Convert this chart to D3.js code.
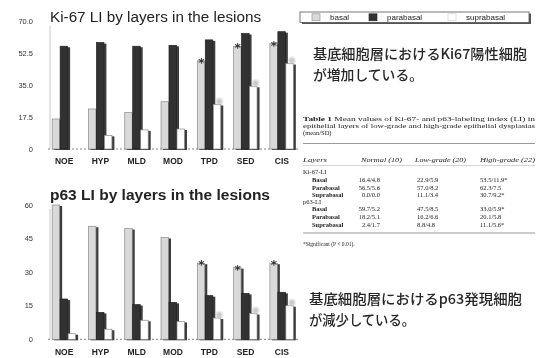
<!DOCTYPE html>
<html>
<head>
<meta charset="utf-8">
<script src="https://cdn.jsdelivr.net/npm/d3@7"></script>
<style>
  body { margin: 0; background: #fff; }
  svg { display: block; }
</style>
</head>
<body>
<div id="chart"></div>
<script>
// data
var categories = ['NOE', 'HYP', 'MLD', 'MOD', 'TPD', 'SED', 'CIS'];
var seriesNames = ['basal', 'parabasal', 'suprabasal'];
var significant = ['TPD', 'SED', 'CIS'];

var ki67Basal = [16.5, 22, 20, 26, 48.5, 56.5, 58];
var ki67Parabasal = [56.5, 58.5, 56.5, 57, 60, 63.5, 64.5];
var ki67Suprabasal = [0, 7.5, 10.5, 11, 24.5, 34.5, 47];
var ki67Ticks = [0, 17.5, 35, 52.5, 70];
var ki67TickLabels = ['0', '17.5', '35.0', '52.5', '70.0'];

var p63Basal = [60, 50.5, 49.5, 45.5, 34, 32, 34];
var p63Parabasal = [18, 12, 15.5, 16.5, 19.5, 20.5, 21];
var p63Suprabasal = [2.5, 4.5, 8.5, 8, 9.5, 11.5, 15];
var p63Ticks = [0, 15, 30, 45, 60];
var p63TickLabels = ['0', '15', '30', '45', '60'];

var tableTitle = ['Table 1  Mean values of Ki-67- and p63-labeling index (LI) in',
    'epithelial layers of low-grade and high-grade epithelial dysplasias',
    '(mean/SD)'];
var tableHeader = ['Layers', 'Normal (10)', 'Low-grade (20)', 'High-grade (22)'];
var tableRows = [
    ['Ki-67-LI', null, null, null],
    ['Basal', '16.4/4.8', '22.9/5.9', '53.5/11.9*'],
    ['Parabasal', '56.5/5.6', '57.0/8.2', '62.3/7.5'],
    ['Suprabasal', '0.0/0.0', '11.1/3.4', '30.7/9.2*'],
    ['p63-LI', null, null, null],
    ['Basal', '59.7/5.2', '47.5/8.5', '33.0/5.9*'],
    ['Parabasal', '18.2/5.1', '16.2/6.6', '20.1/5.8'],
    ['Suprabasal', '2.4/1.7', '8.8/4.8', '11.1/5.6*']
];
var footnote = '*Significant (P < 0.01).';

var w = 537;
var h = 358;
var svg = d3.select('#chart').append('svg')
    .attr('width', w)
    .attr('height', h);

var defs = svg.append('defs');
defs.append('filter').attr('id', 'soft')
    .append('feGaussianBlur').attr('stdDeviation', 0.45);
defs.append('filter').attr('id', 'blob')
    .append('feGaussianBlur').attr('stdDeviation', 1.2);

var fills = { basal: '#d9d9d9', parabasal: '#333333', suprabasal: '#ffffff' };
var strokes = { basal: '#8a8a8a', parabasal: '#222222', suprabasal: '#8a8a8a' };

var x = d3.scaleBand()
    .domain(categories)
    .range([46, 300])
    .paddingInner(0.34)
    .paddingOuter(0.17);

var xs = d3.scaleBand()
    .domain(seriesNames)
    .range([0, x.bandwidth()]);

function drawChart(opt) {
    var g = svg.append('g').attr('filter', 'url(#soft)');
    var y = d3.scaleLinear().domain(opt.domain).range(opt.range);

    g.append('text')
        .attr('x', 50)
        .attr('y', opt.titleY)
        .attr('font-family', 'Liberation Sans, Arial, sans-serif')
        .attr('font-size', 14)
        .attr('font-weight', opt.titleBold ? 'bold' : 'normal')
        .attr('fill', '#222')
        .attr('textLength', opt.titleLen)
        .attr('lengthAdjust', 'spacingAndGlyphs')
        .text(opt.title);

    // axis line
    g.append('line')
        .attr('x1', 50).attr('x2', 50)
        .attr('y1', y(opt.domain[1]) + 4).attr('y2', y(0))
        .attr('stroke', '#bbb').attr('stroke-width', 0.8);

    g.append('line')
        .attr('x1', 48).attr('x2', 300)
        .attr('y1', y(0)).attr('y2', y(0))
        .attr('stroke', '#666').attr('stroke-width', 0.8)
        .attr('stroke-dasharray', '2,2');

    g.selectAll('.tick' + opt.id)
        .data(opt.ticks)
        .join('text')
        .attr('class', 'tick' + opt.id)
        .attr('x', 33)
        .attr('y', d => y(d) + 2.5)
        .attr('text-anchor', 'end')
        .attr('font-family', 'Liberation Sans, Arial, sans-serif')
        .attr('font-size', 7.5)
        .attr('fill', '#333')
        .text((d, i) => opt.tickLabels[i]);

    var rows = [];
    categories.forEach(function (c, i) {
        seriesNames.forEach(function (s, j) {
            rows.push({ cat: c, series: s, value: opt.values[j][i] });
        });
    });

    // shadows
    g.selectAll('.shadow' + opt.id)
        .data(rows.filter(d => d.value > 0))
        .join('rect')
        .attr('class', 'shadow' + opt.id)
        .attr('x', d => x(d.cat) + xs(d.series) + 2)
        .attr('y', d => y(d.value) + 1)
        .attr('width', xs.bandwidth())
        .attr('height', d => y(0) - y(d.value))
        .attr('fill', '#3c3c3c');

    g.selectAll('.bar' + opt.id)
        .data(rows.filter(d => d.value > 0))
        .join('rect')
        .attr('class', 'bar' + opt.id)
        .attr('x', d => x(d.cat) + xs(d.series))
        .attr('y', d => y(d.value))
        .attr('width', xs.bandwidth() - 0.5)
        .attr('height', d => y(0) - y(d.value))
        .attr('fill', d => fills[d.series])
        .attr('stroke', d => strokes[d.series])
        .attr('stroke-width', 0.7);

    // significance marks
    var sig = rows.filter(d => significant.indexOf(d.cat) >= 0 && d.series == 'basal');
    g.selectAll('.star' + opt.id)
        .data(sig)
        .join('text')
        .attr('class', 'star' + opt.id)
        .attr('x', d => x(d.cat) + xs(d.series) + xs.bandwidth() / 2)
        .attr('y', d => y(d.value) + 6)
        .attr('text-anchor', 'middle')
        .attr('font-family', 'DejaVu Sans, sans-serif')
        .attr('font-size', 12)
        .attr('font-weight', 'bold')
        .attr('fill', '#333')
        .text('*');

    var faded = rows.filter(d => significant.indexOf(d.cat) >= 0 && d.series == 'suprabasal');
    svg.selectAll('.blob' + opt.id)
        .data(faded)
        .join('circle')
        .attr('class', 'blob' + opt.id)
        .attr('cx', d => x(d.cat) + xs(d.series) + xs.bandwidth() / 2 + 2)
        .attr('cy', d => y(d.value) - 3)
        .attr('r', 3.2)
        .attr('fill', '#c8c8c8')
        .attr('filter', 'url(#blob)');

    g.selectAll('.cat' + opt.id)
        .data(categories)
        .join('text')
        .attr('class', 'cat' + opt.id)
        .attr('x', d => x(d) + x.bandwidth() / 2)
        .attr('y', opt.catY)
        .attr('text-anchor', 'middle')
        .attr('font-family', 'Liberation Sans, Arial, sans-serif')
        .attr('font-size', 8.5)
        .attr('font-weight', 'bold')
        .attr('fill', '#222')
        .text(d => d);
}

drawChart({
    id: 'k', domain: [0, 70], range: [149, 21.7],
    values: [ki67Basal, ki67Parabasal, ki67Suprabasal],
    ticks: ki67Ticks, tickLabels: ki67TickLabels,
    title: 'Ki-67 LI by layers in the lesions', titleY: 21.5, titleLen: 211, titleBold: false,
    catY: 164
});

drawChart({
    id: 'p', domain: [0, 60], range: [339.3, 205],
    values: [p63Basal, p63Parabasal, p63Suprabasal],
    ticks: p63Ticks, tickLabels: p63TickLabels,
    title: 'p63 LI by layers in the lesions', titleY: 200, titleLen: 220, titleBold: true,
    catY: 355
});

// legend
var lg = svg.append('g').attr('filter', 'url(#soft)');
lg.append('rect').attr('x', 302).attr('y', 13.5).attr('width', 229).attr('height', 10.5).attr('fill', '#555');
lg.append('rect').attr('x', 300).attr('y', 12).attr('width', 229).attr('height', 10.5)
    .attr('fill', '#fff').attr('stroke', '#555').attr('stroke-width', 0.8);
var legendX = [312, 369, 448];
seriesNames.forEach(function (s, i) {
    lg.append('rect')
        .attr('x', legendX[i]).attr('y', 13.8)
        .attr('width', 8).attr('height', 7)
        .attr('fill', fills[s])
        .attr('stroke', s == 'suprabasal' ? '#ccc' : strokes[s])
        .attr('stroke-width', 0.6);
    lg.append('text')
        .attr('x', legendX[i] + 18).attr('y', 20.2)
        .attr('font-family', 'Liberation Sans, Arial, sans-serif')
        .attr('font-size', 8)
        .attr('fill', '#222')
        .text(s);
});

// Japanese notes
var notes = [
    { x: 313, y: 59, text: '基底細胞層におけるKi67陽性細胞', len: 214 },
    { x: 313, y: 80, text: 'が増加している。', len: 110 },
    { x: 309, y: 304, text: '基底細胞層におけるp63発現細胞', len: 213 },
    { x: 309, y: 325, text: 'が減少している。', len: 106 }
];
svg.selectAll('.note')
    .data(notes)
    .join('text')
    .attr('class', 'note')
    .attr('x', d => d.x)
    .attr('y', d => d.y)
    .attr('font-family', 'Noto Sans CJK JP, sans-serif')
    .attr('font-size', 14)
    .attr('font-weight', 500)
    .attr('fill', '#262626')
    .attr('textLength', d => d.len)
    .attr('lengthAdjust', 'spacingAndGlyphs')
    .attr('filter', 'url(#soft)')
    .text(d => d.text);

// table
var tg = svg.append('g').attr('filter', 'url(#soft)')
    .attr('font-family', 'Liberation Serif, Times New Roman, serif')
    .attr('font-size', 6.5)
    .attr('fill', '#222');

var titleLens = [232, 232, null];
tableTitle.forEach(function (t, i) {
    var tx = tg.append('text')
        .attr('x', 303).attr('y', 121 + i * 6.8);
    if (titleLens[i]) tx.attr('textLength', titleLens[i]).attr('lengthAdjust', 'spacingAndGlyphs');
    if (i == 0) {
        tx.append('tspan').attr('font-weight', 'bold').text('Table 1');
        tx.append('tspan').text(t.replace('Table 1', ''));
    } else {
        tx.text(t);
    }
});

tg.append('line').attr('x1', 303).attr('x2', 535).attr('y1', 143.5).attr('y2', 143.5)
    .attr('stroke', '#999').attr('stroke-width', 1.2);
tg.append('line').attr('x1', 303).attr('x2', 535).attr('y1', 165.5).attr('y2', 165.5)
    .attr('stroke', '#bbb').attr('stroke-width', 0.6);
tg.append('line').attr('x1', 303).attr('x2', 535).attr('y1', 233).attr('y2', 233)
    .attr('stroke', '#999').attr('stroke-width', 1);

var headerX = [303, 361, 415, 480];
var headerLen = [24, 41, 51, 55];
tableHeader.forEach(function (t, i) {
    tg.append('text')
        .attr('x', headerX[i]).attr('y', 161.5)
        .attr('font-style', 'italic')
        .attr('textLength', headerLen[i])
        .attr('lengthAdjust', 'spacingAndGlyphs')
        .text(t);
});

var rowY = [174, 182, 189.5, 196.5, 203.5, 211, 219, 226.5];
tableRows.forEach(function (r, i) {
    tg.append('text')
        .attr('x', r[1] == null ? 303 : 312)
        .attr('y', rowY[i])
        .attr('font-weight', r[1] == null ? 'normal' : 'bold')
        .text(r[0]);
    if (r[1] == null) return;
    tg.append('text').attr('x', 380).attr('y', rowY[i]).attr('text-anchor', 'end').text(r[1]);
    tg.append('text').attr('x', 417).attr('y', rowY[i]).text(r[2]);
    tg.append('text').attr('x', 480).attr('y', rowY[i]).text(r[3]);
});

tg.append('text')
    .attr('x', 303).attr('y', 246)
    .attr('font-size', 5.5)
    .text(footnote);
</script>
</body>
</html>
